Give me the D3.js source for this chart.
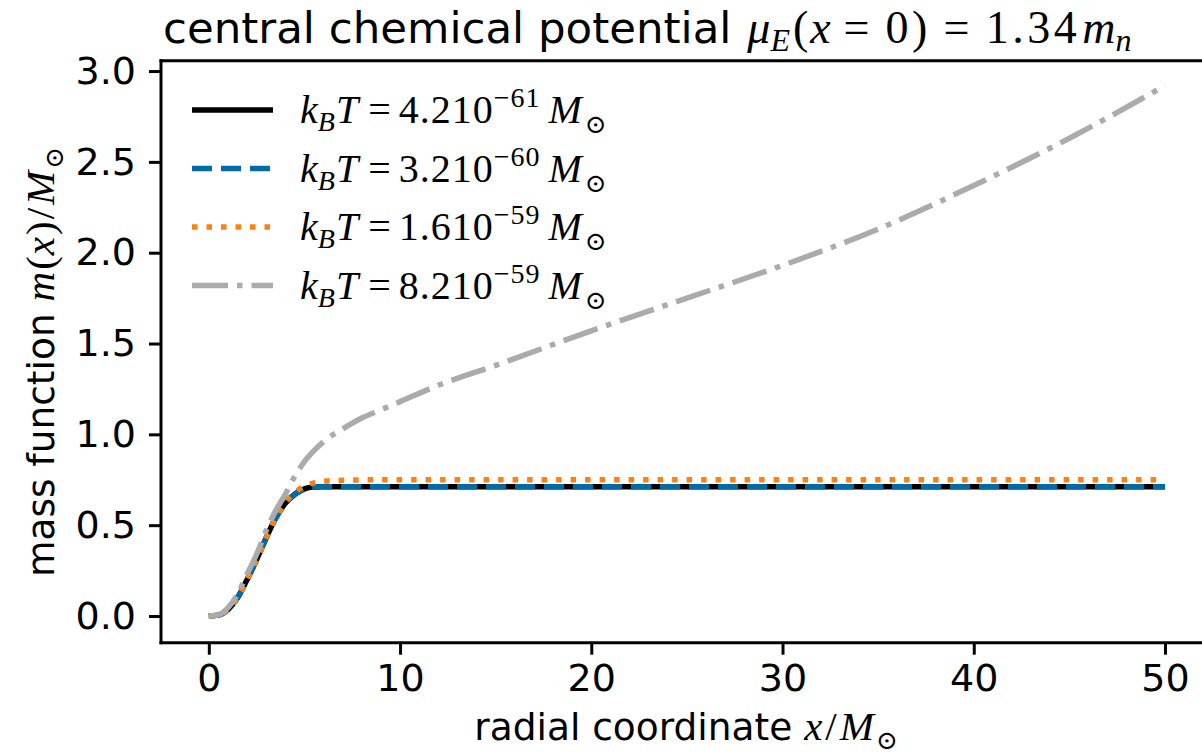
<!DOCTYPE html>
<html>
<head>
<meta charset="utf-8">
<script src="https://cdn.jsdelivr.net/npm/d3@7"></script>
<style>
  body { margin: 0; background: #fff; }
  .sans { font-family: "DejaVu Sans", sans-serif; }
  .math { font-family: "Liberation Serif", "DejaVu Serif", serif; }
</style>
</head>
<body>
<svg id="chart"></svg>
<script>
// radial coordinate samples (x / M_sun)
const xs = [0, 0.5, 1, 1.5, 2, 2.5, 3, 3.5, 4, 4.5, 5, 5.5, 6, 7, 8, 9, 10, 12, 15, 20, 25, 30, 35, 40, 45, 50];

// mass function m(x)/M_sun for each temperature
const m1 = [0, 0.005, 0.035, 0.10, 0.20, 0.31, 0.43, 0.54, 0.62, 0.67, 0.70, 0.71, 0.712, 0.712, 0.712, 0.712, 0.712, 0.712, 0.712, 0.712, 0.712, 0.712, 0.712, 0.712, 0.712, 0.712];
const m2 = [0, 0.005, 0.035, 0.10, 0.20, 0.31, 0.43, 0.54, 0.62, 0.67, 0.70, 0.71, 0.712, 0.712, 0.712, 0.712, 0.712, 0.712, 0.712, 0.712, 0.712, 0.712, 0.712, 0.712, 0.712, 0.712];
const m3 = [0, 0.005, 0.035, 0.10, 0.20, 0.31, 0.43, 0.54, 0.625, 0.68, 0.715, 0.733, 0.742, 0.747, 0.749, 0.75, 0.75, 0.75, 0.75, 0.75, 0.75, 0.75, 0.75, 0.75, 0.75, 0.75];
const m4 = [0, 0.006, 0.045, 0.12, 0.23, 0.34, 0.47, 0.58, 0.67, 0.77, 0.85, 0.91, 0.96, 1.03, 1.09, 1.135, 1.18, 1.27, 1.38, 1.57, 1.75, 1.93, 2.13, 2.37, 2.63, 2.92];

const mantissas = ['4.2', '3.2', '1.6', '8.2'];
const exponents = ['\u221261', '\u221260', '\u221259', '\u221259'];

const xTicks = [0, 10, 20, 30, 40, 50];
const yTicks = [0, 0.5, 1.0, 1.5, 2.0, 2.5, 3.0];

const W = 1202, H = 755;
const svg = d3.select('#chart').attr('width', W).attr('height', H);

const x = d3.scaleLinear().domain([-2.5, 52.5]).range([161, 1212.8]);
const y = d3.scaleLinear().domain([-0.147, 3.057]).range([642.7, 60.7]);

const series = [
  {vals: m1, color: '#000000', dash: null},
  {vals: m2, color: '#006BA4', dash: '20,9'},
  {vals: m3, color: '#FF800E', dash: '5.5,9'},
  {vals: m4, color: '#ABABAB', dash: '36,9,5.5,9'}
];

const line = d3.line()
  .x(d => x(d[0]))
  .y(d => y(d[1]))
  .curve(d3.curveMonotoneX);

series.forEach(s => {
  svg.append('path')
    .datum(xs.map((v, i) => [v, s.vals[i]]))
    .attr('d', line)
    .attr('fill', 'none')
    .attr('stroke', s.color)
    .attr('stroke-width', 5.5)
    .attr('stroke-dasharray', s.dash)
    .attr('stroke-linecap', 'butt');
});

// axes
const xAxis = d3.axisBottom(x).tickValues(xTicks).tickSize(12).tickPadding(9)
  .tickFormat(d3.format('d'));
const yAxis = d3.axisLeft(y).tickValues(yTicks).tickSize(12).tickPadding(13)
  .tickFormat(d3.format('.1f'));

const gx = svg.append('g').attr('transform', `translate(0,${y.range()[0]})`).call(xAxis);
const gy = svg.append('g').attr('transform', `translate(${x.range()[0]},0)`).call(yAxis);

[gx, gy].forEach(g => {
  g.select('.domain').remove();
  g.selectAll('.tick line').attr('stroke', '#000').attr('stroke-width', 3);
  g.selectAll('.tick text').attr('class', 'sans').style('font-size', '38px').attr('fill', '#000');
});

// spines
svg.append('line').attr('x1', 161).attr('x2', 161).attr('y1', 59.2).attr('y2', 644.2)
  .attr('stroke', '#000').attr('stroke-width', 3);
svg.append('line').attr('x1', 159.5).attr('x2', 1214).attr('y1', 642.7).attr('y2', 642.7)
  .attr('stroke', '#000').attr('stroke-width', 3);
svg.append('line').attr('x1', 159.5).attr('x2', 1214).attr('y1', 60.7).attr('y2', 60.7)
  .attr('stroke', '#000').attr('stroke-width', 3);

// helper for math-ish runs
function addRuns(t, runs) {
  runs.forEach(r => {
    const ts = t.append('tspan').text(r.t);
    if (r.cls) ts.attr('class', r.cls);
    if (r.it) ts.attr('font-style', 'italic');
    if (r.size) ts.style('font-size', r.size);
    if (r.ls) ts.style('letter-spacing', r.ls);
    if (r.dy) ts.attr('dy', r.dy);
    if (r.dx) ts.attr('dx', r.dx);
  });
}

// title
const title = svg.append('text').attr('x', 163).attr('y', 43).style('font-size', '43.5px').attr('fill', '#000');
addRuns(title, [
  {t: 'central chemical potential ', cls: 'sans'},
  {t: '\u03bc', cls: 'math', it: true, size: '46px', dx: 2},
  {t: 'E', cls: 'math', it: true, size: '32px', dy: 8},
  {t: '(', cls: 'math', size: '46px', dy: -8, dx: 3},
  {t: 'x', cls: 'math', it: true, size: '46px', dx: 2},
  {t: '\u2009=\u20090)\u2009=\u20091.34', cls: 'math', size: '46px', ls: '3.5px'},
  {t: 'm', cls: 'math', it: true, size: '46px', dx: 2},
  {t: 'n', cls: 'math', it: true, size: '32px', dy: 8}
]);

// x label
const xl = svg.append('text').attr('x', 686).attr('y', 740).attr('text-anchor', 'middle')
  .style('font-size', '37.5px').attr('fill', '#000');
addRuns(xl, [
  {t: 'radial coordinate ', cls: 'sans'},
  {t: 'x', cls: 'math', it: true, size: '41px'},
  {t: '/', cls: 'math', size: '41px', dx: 3},
  {t: 'M', cls: 'math', it: true, size: '41px', dx: 3},
  {t: '\u2299', cls: 'math', size: '26px', dy: 9, dx: 2}
]);

// y label
const yl = svg.append('text').attr('transform', 'translate(54,362) rotate(-90)').attr('text-anchor', 'middle')
  .style('font-size', '37.5px').attr('fill', '#000');
addRuns(yl, [
  {t: 'mass function ', cls: 'sans'},
  {t: 'm', cls: 'math', it: true, size: '41px'},
  {t: '(', cls: 'math', size: '41px', dx: 2},
  {t: 'x', cls: 'math', it: true, size: '41px', dx: 1},
  {t: ')', cls: 'math', size: '41px', dx: 2},
  {t: '/', cls: 'math', size: '41px', dx: 2},
  {t: 'M', cls: 'math', it: true, size: '41px', dx: 3},
  {t: '\u2299', cls: 'math', size: '26px', dy: 9, dx: 2}
]);

// legend
const legendG = svg.selectAll('.legend')
  .data(series)
  .enter().append('g')
  .attr('class', 'legend')
  .attr('transform', (d, i) => `translate(192,${110 + i * 58.5})`);

legendG.append('line')
  .attr('x1', 0).attr('x2', 81).attr('y1', 0).attr('y2', 0)
  .attr('stroke', d => d.color)
  .attr('stroke-width', 5.5)
  .attr('stroke-dasharray', d => d.dash);

legendG.each(function (d, i) {
  const t = d3.select(this).append('text').attr('x', 108).attr('y', 13)
    .attr('class', 'math').style('font-size', '40px').attr('fill', '#000');
  addRuns(t, [
    {t: 'k', it: true},
    {t: 'B', it: true, size: '28px', dy: 8},
    {t: 'T', it: true, dy: -8, dx: 1},
    {t: '\u2009=\u2009', dx: 2},
    {t: mantissas[i] + '10', ls: '1px'},
    {t: exponents[i], size: '28px', dy: -16, ls: '1px'},
    {t: 'M', it: true, dy: 16, dx: 8},
    {t: '\u2299', size: '26px', dy: 10, dx: 3}
  ]);
});
</script>
</body>
</html>
